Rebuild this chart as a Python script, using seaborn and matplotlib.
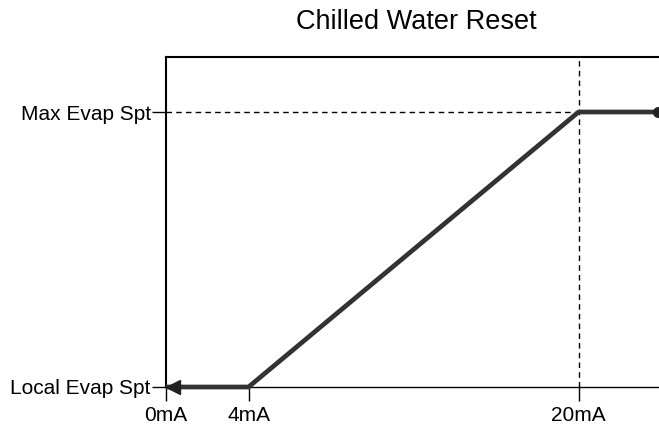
import matplotlib
matplotlib.use("Agg")
import matplotlib.pyplot as plt
import seaborn as sns
import pandas as pd

# data
signal_mA = [0, 4, 20, 23.9]
setpoint = [0, 0, 1, 1]
x_ticks = [0, 4, 20]
x_labels = ["0mA", "4mA", "20mA"]
y_ticks = [0, 1]
y_labels = ["Local Evap Spt", "Max Evap Spt"]
title = "Chilled Water Reset"

sns.set_theme(style="white")
plt.rcParams['font.family'] = ['Liberation Sans', 'DejaVu Sans']

fig = plt.figure(figsize=(6.59, 4.30), dpi=100)
ax = fig.add_axes([166/659, 43/430, 1 - 166/659, (387-57)/430])

df = pd.DataFrame({"mA": signal_mA, "spt": setpoint})

# guide lines
ax.plot([0, signal_mA[2]], [1, 1], color="black", lw=1.0, ls=(0, (4, 3)), zorder=1)
ax.plot([signal_mA[2], signal_mA[2]], [0, 1.2], color="black", lw=1.0, ls=(0, (4, 3)), zorder=1)

sns.lineplot(data=df, x="mA", y="spt", ax=ax, color="#333333", lw=3.4,
             solid_capstyle="butt", zorder=3, clip_on=False)
# arrow heads
ax.plot([signal_mA[0] + 0.35], [setpoint[0]], marker="<", color="#222222",
        markersize=10, zorder=4, clip_on=False)
ax.plot([signal_mA[-1] - 0.05], [setpoint[-1]], marker="o", color="#222222",
        markersize=7, zorder=4, clip_on=True)

ax.set_xlim(0, 23.9)
ax.set_ylim(0, 1.2)
ax.set_xticks(x_ticks)
ax.set_xticklabels(x_labels)
ax.set_yticks(y_ticks)
ax.set_yticklabels(y_labels)
ax.set_xlabel("")
ax.set_ylabel("")
ax.tick_params(axis="both", which="both", direction="out", length=10, width=1,
               color="black", labelsize=15, labelcolor="black")
ax.tick_params(axis="y", pad=1)
ax.tick_params(axis="x", pad=4)
ax.tick_params(bottom=True, left=True)
for lab in ax.get_xticklabels() + ax.get_yticklabels():
    lab.set_fontweight("medium")

for side in ["left", "top"]:
    ax.spines[side].set_visible(True)
    ax.spines[side].set_color("black")
    ax.spines[side].set_linewidth(1.5)
ax.spines["bottom"].set_color("black")
ax.spines["bottom"].set_linewidth(1.0)
ax.spines["right"].set_visible(False)

fig.text(416/659, 1 - 22/430, title, ha="center", va="center", fontsize=19.5,
         color="black")

fig.savefig("out.png", dpi=100, facecolor="white")
